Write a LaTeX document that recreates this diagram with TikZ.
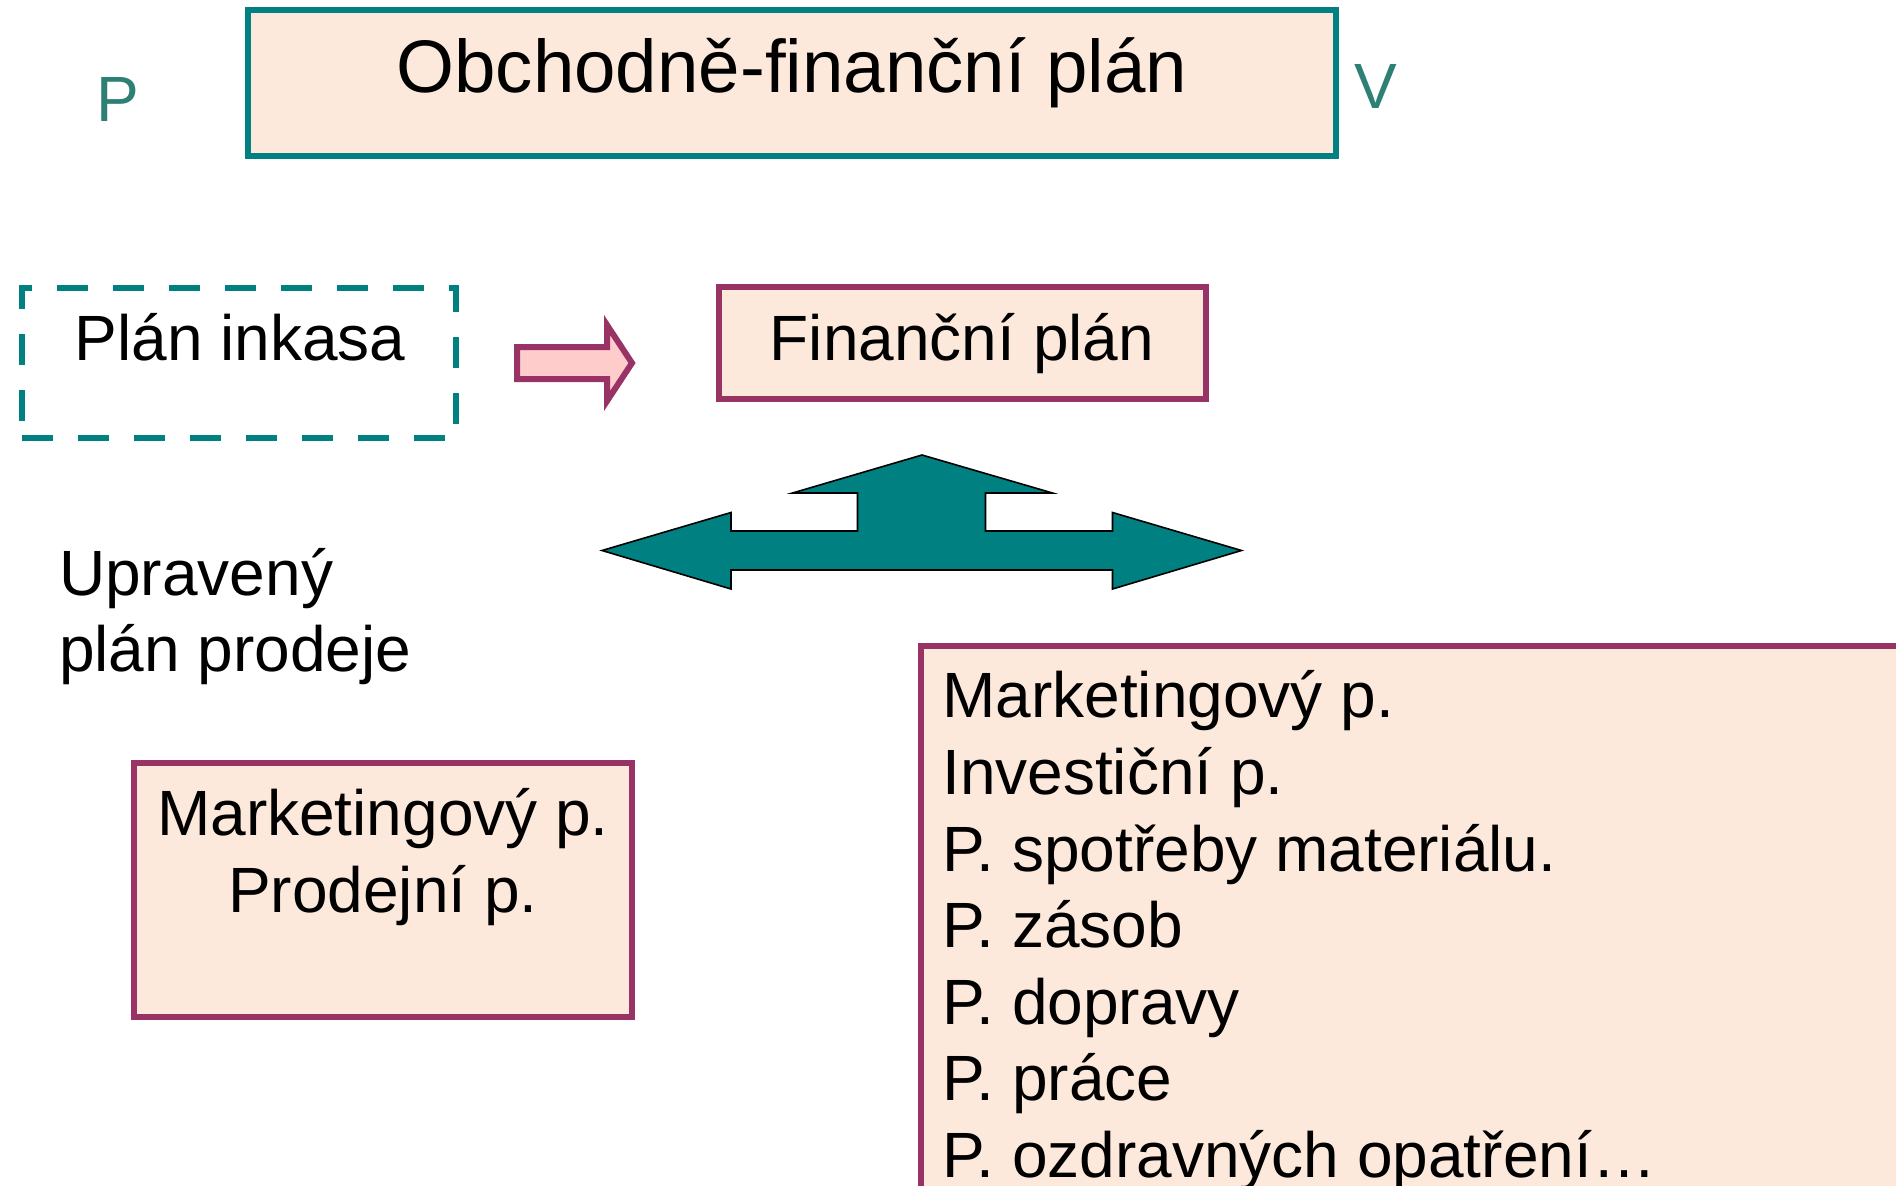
\documentclass[tikz,border=0pt]{standalone}
\usepackage{fontspec}
\setmainfont{Liberation Sans}
\definecolor{tealb}{HTML}{008080}
\definecolor{tealtxt}{HTML}{2E7F74}
\definecolor{magb}{HTML}{993366}
\definecolor{peach}{HTML}{FDE9DB}
\definecolor{pinkf}{HTML}{FFCCCC}
\begin{document}
\begin{tikzpicture}[x=1pt,y=-1pt,
  txt/.style={inner sep=0pt, font=\fontsize{64}{76.5}\selectfont},
  tealbox/.style={draw=tealb, line width=5.5pt, fill=peach, inner sep=0pt},
  magbox/.style={draw=magb, line width=5.5pt, fill=peach, inner sep=0pt},
  dashbox/.style={draw=tealb, line width=6.5pt, dash pattern=on 31pt off 25pt, inner sep=0pt},
]
\useasboundingbox (0,0) rectangle (1896,1186);
\clip (0,0) rectangle (1896,1186);

% title box
\node[tealbox, minimum width=1088pt, minimum height=146pt] (topbox) at (792,83) {};
\node[txt, anchor=base, font=\fontsize{74.5}{90}\selectfont] (title) at (792,92) {Obchodně-finanční plán};
\node[txt, anchor=base west, text=tealtxt] (p) at (96,121) {P};
\node[txt, anchor=base west, text=tealtxt] (v) at (1354,108) {V};

% Plán inkasa
\node[dashbox, minimum width=434pt, minimum height=150pt] (inkbox) at (239,363) {};
\node[txt, anchor=base] (ink) at (240,360) {Plán inkasa};

% small arrow
\draw[draw=magb, fill=pinkf, line width=6pt, line join=miter]
  (517,347) -- (607,347) -- (607,325) -- (632,363) -- (607,401) -- (607,379) -- (517,379) -- cycle;

% Finanční plán
\node[magbox, minimum width=487pt, minimum height=112pt] (finbox) at (962.5,343) {};
\node[txt, anchor=base] (fin) at (962,360) {Finanční plán};

% big teal arrow
\draw[fill=tealb, draw=black, line width=1.6pt, line join=miter]
  (602,550.5) -- (731,512.5) -- (731,531) -- (857.5,531) -- (857.5,493) -- (792.5,493)
  -- (922,455) -- (1052.5,493) -- (985.5,493) -- (985.5,531) -- (1112.5,531)
  -- (1112.5,512.5) -- (1241.5,550.5) -- (1112.5,589) -- (1112.5,570) -- (731,570)
  -- (731,589) -- cycle;

% Upravený plán prodeje
\node[txt, anchor=base west] (upr1) at (59,595) {Upravený};
\node[txt, anchor=base west] (upr2) at (59,671) {plán prodeje};

% bottom left box
\node[magbox, minimum width=498pt, minimum height=254pt] (blbox) at (383,890) {};
\node[txt, anchor=base] (bl1) at (383,835) {Marketingový p.};
\node[txt, anchor=base] (bl2) at (383,912) {Prodejní p.};

% right box
\draw[draw=magb, line width=5.5pt, fill=peach] (921,646) rectangle (1960,1260);
\node[txt, anchor=base west] (r1) at (942,717) {Marketingový p.};
\node[txt, anchor=base west] (r2) at (942,794) {Investiční p.};
\node[txt, anchor=base west] (r3) at (942,871) {P. spotřeby materiálu.};
\node[txt, anchor=base west] (r4) at (942,947) {P. zásob};
\node[txt, anchor=base west] (r5) at (942,1024) {P. dopravy};
\node[txt, anchor=base west] (r6) at (942,1100) {P. práce};
\node[txt, anchor=base west] (r7) at (942,1177) {P. ozdravných opatření…};
\end{tikzpicture}
\end{document}
